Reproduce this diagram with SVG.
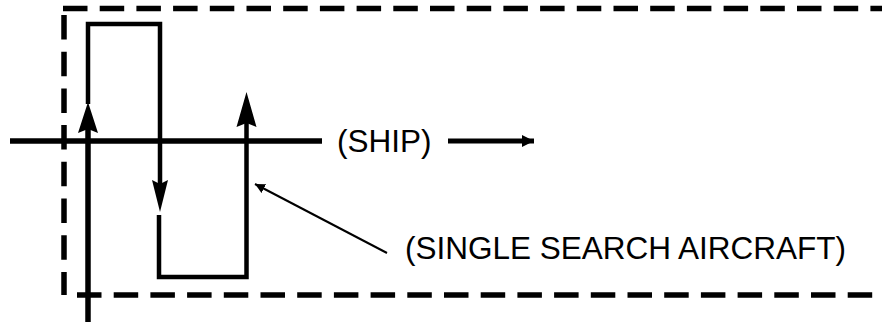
<svg xmlns="http://www.w3.org/2000/svg" width="882" height="322" viewBox="0 0 882 322">
<style>
.dash{stroke:#000;stroke-width:5.5;fill:none;stroke-dasharray:24.5 12.2}
.thick{stroke:#000;stroke-width:5.5;fill:none}
.mid{stroke:#000;stroke-width:4.5;fill:none;stroke-linejoin:miter}
.lbl{font-family:"Liberation Sans",Arial,sans-serif;font-size:31.5px;fill:#000}
.head{fill:#000}
</style>
<defs>
<marker id="sm" viewBox="0 0 10 10" refX="10" refY="5" markerWidth="10" markerHeight="10" markerUnits="userSpaceOnUse" orient="auto">
<path d="M0,0 L10,5 L0,10 Z" fill="#000"/>
</marker>
<marker id="sm2" viewBox="0 0 12 12" refX="12" refY="6" markerWidth="12" markerHeight="12" markerUnits="userSpaceOnUse" orient="auto">
<path d="M0,0 L12,6 L0,12 Z" fill="#000"/>
</marker>
</defs>
<g id="search-area">
<line class="dash" x1="63" y1="8.5" x2="882" y2="8.5"/>
<line class="dash" x1="64" y1="15" x2="64" y2="295"/>
<line class="dash" x1="77" y1="295" x2="882" y2="295"/>
</g>
<g id="ship">
<line class="thick" x1="10" y1="141" x2="322" y2="141"/>
<text class="lbl" x="337" y="152">(SHIP)</text>
<line stroke="#000" stroke-width="5" x1="448" y1="141" x2="534" y2="141" marker-end="url(#sm2)"/>
</g>
<g id="aircraft-label">
<text class="lbl" x="405" y="259">(SINGLE SEARCH AIRCRAFT)</text>
</g>
<g id="connectors">
<line class="thick" x1="88" y1="322" x2="88" y2="125"/>
<path class="head" d="M88,102 L98,133 L88,129 L78,133 Z"/>
<polyline class="mid" points="88,104 88,24 160,24 160,190"/>
<path class="head" d="M160,212 L152,180 L160,184 L168,180 Z"/>
<polyline class="mid" points="159,215 159,277 246.5,277 246.5,115"/>
<path class="head" d="M246.5,92 L256.5,127 L246.5,123 L236.5,127 Z"/>
<line stroke="#000" stroke-width="2" x1="387" y1="253" x2="255" y2="184" marker-end="url(#sm)"/>
</g>
</svg>
